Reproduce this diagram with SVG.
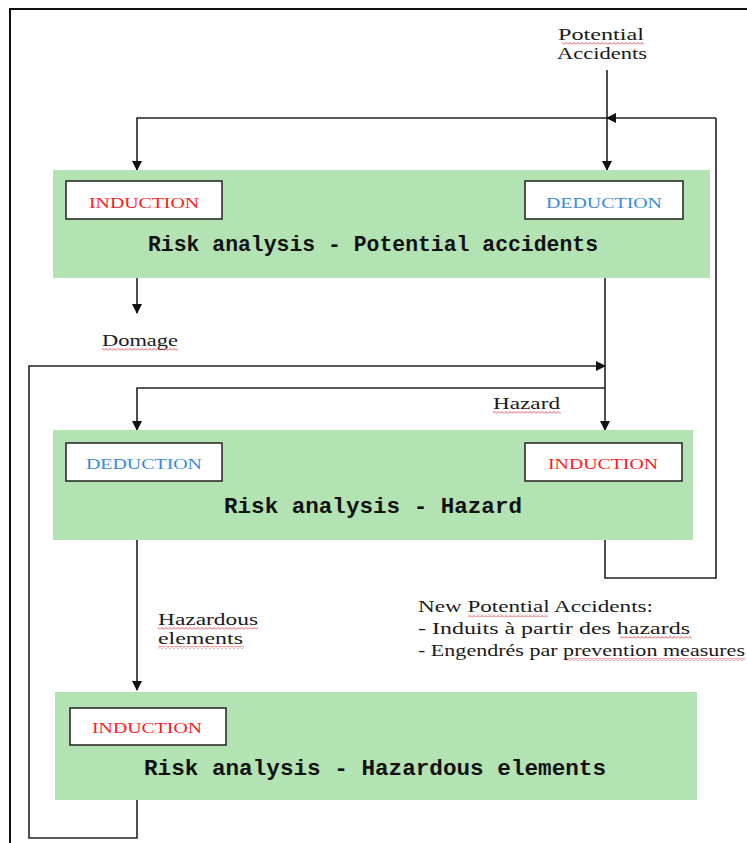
<svg xmlns="http://www.w3.org/2000/svg" width="747" height="843" viewBox="0 0 747 843">
<style>
.box{fill:#b3e3b3}
.tag{fill:#fff;stroke:#222;stroke-width:1.5}
.ind{font-family:"Liberation Serif",serif;font-size:15px;fill:#ff2020;text-anchor:middle}
.ded{font-family:"Liberation Serif",serif;font-size:15px;fill:#3a8be0;text-anchor:middle}
.title{font-family:"Liberation Mono",monospace;font-weight:bold;font-size:22px;fill:#111;text-anchor:middle}
.lbl{font-family:"Liberation Serif",serif;font-size:17px;fill:#1a1a1a}
.ln{fill:none;stroke:#222;stroke-width:1.6}
</style>
<defs>
<marker id="ah" markerWidth="10" markerHeight="10" refX="9" refY="5" orient="auto" markerUnits="userSpaceOnUse">
<path d="M0,0 L10,5 L0,10 z" fill="#111"/>
</marker>
<pattern id="sq" width="4" height="3" patternUnits="userSpaceOnUse">
<path d="M0,2.5 L2,0.5 L4,2.5" fill="none" stroke="#e02020" stroke-width="0.8"/>
</pattern>
</defs>
<rect width="747" height="843" fill="#fff"/>
<path d="M10,843 V9 H747" fill="none" stroke="#111" stroke-width="2"/>

<g id="connectors">
<path class="ln" d="M607,70 V170" marker-end="url(#ah)"/>
<path class="ln" d="M716,118 H607" marker-end="url(#ah)"/>
<path class="ln" d="M607,118 H137 V170" marker-end="url(#ah)"/>
<path class="ln" d="M605,540 V578 H716 V118"/>
<path class="ln" d="M137,278 V313" marker-end="url(#ah)"/>
<path class="ln" d="M605,278 V430" marker-end="url(#ah)"/>
<path class="ln" d="M137,800 V838 H29 V366 H605" marker-end="url(#ah)"/>
<path class="ln" d="M605,388 H137 V430" marker-end="url(#ah)"/>
<path class="ln" d="M137,540 V690" marker-end="url(#ah)"/>
</g>

<g id="node1">
<rect class="box" x="53" y="170" width="657" height="108"/>
<rect class="tag" x="66" y="181" width="156" height="38"/>
<text class="ind" x="144" y="208" textLength="110" lengthAdjust="spacingAndGlyphs">INDUCTION</text>
<rect class="tag" x="525" y="181" width="158" height="38"/>
<text class="ded" x="604" y="208" textLength="116" lengthAdjust="spacingAndGlyphs">DEDUCTION</text>
<text class="title" x="373" y="251" textLength="450" lengthAdjust="spacingAndGlyphs">Risk analysis - Potential accidents</text>
</g>

<g id="node2">
<rect class="box" x="53" y="430" width="640" height="110"/>
<rect class="tag" x="66" y="443" width="156" height="38"/>
<text class="ded" x="144" y="469" textLength="116" lengthAdjust="spacingAndGlyphs">DEDUCTION</text>
<rect class="tag" x="525" y="443" width="157" height="38"/>
<text class="ind" x="603" y="469" textLength="110" lengthAdjust="spacingAndGlyphs">INDUCTION</text>
<text class="title" x="373" y="513" textLength="298" lengthAdjust="spacingAndGlyphs">Risk analysis - Hazard</text>
</g>

<g id="node3">
<rect class="box" x="55" y="692" width="642" height="108"/>
<rect class="tag" x="70" y="708" width="156" height="37"/>
<text class="ind" x="147" y="733" textLength="110" lengthAdjust="spacingAndGlyphs">INDUCTION</text>
<text class="title" x="375" y="775" textLength="462" lengthAdjust="spacingAndGlyphs">Risk analysis - Hazardous elements</text>
</g>

<g id="labels">
<text class="lbl" x="601" y="40" text-anchor="middle" textLength="86" lengthAdjust="spacingAndGlyphs">Potential</text>
<text class="lbl" x="602" y="59" text-anchor="middle" textLength="90" lengthAdjust="spacingAndGlyphs">Accidents</text>
<rect x="562" y="42" width="82" height="3" fill="url(#sq)"/>
<text class="lbl" x="102" y="346" textLength="76" lengthAdjust="spacingAndGlyphs">Domage</text>
<rect x="102" y="348" width="76" height="3" fill="url(#sq)"/>
<text class="lbl" x="493" y="409" textLength="67" lengthAdjust="spacingAndGlyphs">Hazard</text>
<rect x="493" y="411" width="68" height="3" fill="url(#sq)"/>
<text class="lbl" x="158" y="625" textLength="100" lengthAdjust="spacingAndGlyphs">Hazardous</text>
<rect x="158" y="627" width="100" height="3" fill="url(#sq)"/>
<text class="lbl" x="158" y="644" textLength="85" lengthAdjust="spacingAndGlyphs">elements</text>
<rect x="158" y="646" width="86" height="3" fill="url(#sq)"/>
<text class="lbl" x="418" y="612" textLength="235" lengthAdjust="spacingAndGlyphs">New Potential Accidents:</text>
<rect x="468" y="614" width="80" height="3" fill="url(#sq)"/>
<text class="lbl" x="418" y="634" textLength="272" lengthAdjust="spacingAndGlyphs">- Induits à partir des hazards</text>
<rect x="620" y="636" width="72" height="3" fill="url(#sq)"/>
<text class="lbl" x="418" y="656" textLength="327" lengthAdjust="spacingAndGlyphs">- Engendrés par prevention measures</text>
<rect x="566" y="658" width="179" height="3" fill="url(#sq)"/>
</g>
</svg>
